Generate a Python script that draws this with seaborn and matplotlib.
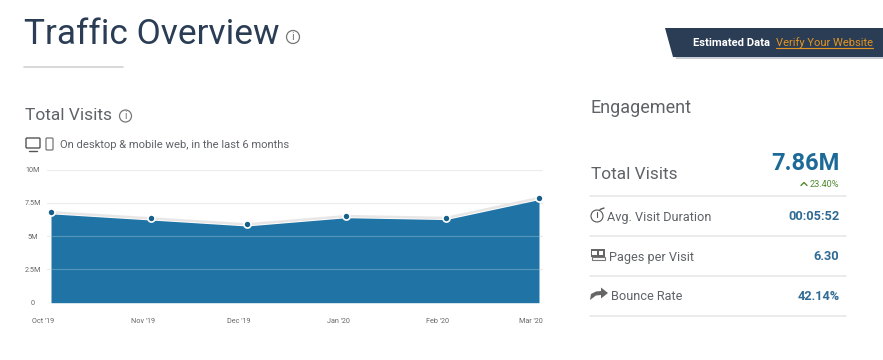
import pandas as pd
import matplotlib.pyplot as plt
from matplotlib.patches import Circle, FancyBboxPatch, Polygon, Rectangle
from matplotlib.transforms import ScaledTranslation
import seaborn as sns

# --- DATA ---
MONTHS = ["2019-10-01", "2019-11-01", "2019-12-01", "2020-01-01", "2020-02-01", "2020-03-01"]
MONTH_LABELS = ["Oct '19", "Nov '19", "Dec '19", "Jan '20", "Feb '20", "Mar '20"]
VISITS_M = [6.79, 6.33, 5.88, 6.50, 6.36, 7.86]
Y_TICKS = [0, 2.5, 5, 7.5, 10]
Y_LABELS = ["0", "2.5M", "5M", "7.5M", "10M"]
ROW_LABELS = ["Avg. Visit Duration", "Pages per Visit", "Bounce Rate"]
ROW_VALUES = ["00:05:52", "6.30", "42.14%"]

BLUE = "#1f74a5"
NAVY = "#2b3d55"
GREY = "#5f6368"
VALUE_BLUE = "#2f6b94"

sns.set_style("white")
plt.rcParams['font.family'] = ['Roboto', 'DejaVu Sans']

W, H = 883, 360
fig = plt.figure(figsize=(W / 100, H / 100), dpi=100, facecolor="white")

# Page layer in pixel coordinates for the text and icons around the chart
page = fig.add_axes([0, 0, 1, 1])
page.set_xlim(0, W)
page.set_ylim(H, 0)
page.axis("off")

# Chart
ax = fig.add_axes([47 / W, 1 - 302.7 / H, 496 / W, 133.2 / H])
df = pd.DataFrame({"month": pd.to_datetime(MONTHS), "visits": VISITS_M})
pad = pd.Timedelta(days=1.25)
ax.set_xlim(df["month"].iloc[0] - pad, df["month"].iloc[-1] + pad)
ax.set_ylim(0, 10)

ax.fill_between(df["month"], df["visits"] - 0.12, 0, color=BLUE, lw=0, zorder=2)
ax.hlines(Y_TICKS[1:3], df["month"].iloc[0], df["month"].iloc[-1], color="white",
          alpha=0.25, lw=0.8, zorder=3)
sns.lineplot(data=df, x="month", y="visits", ax=ax, color="#e9e6e6", lw=1.8, zorder=4)
sns.scatterplot(data=df, x="month", y="visits", ax=ax, color="#155f8a", s=26,
                edgecolor="white", linewidth=1.2, zorder=5, clip_on=False)

ax.set_yticks(Y_TICKS, Y_LABELS)
ax.set_xticks(df["month"], MONTH_LABELS)
ax.set_xlabel("")
ax.set_ylabel("")
ax.grid(axis="y", color="#ececec", lw=0.8)
ax.set_axisbelow(True)
sns.despine(ax=ax, left=True, bottom=True)
ax.tick_params(axis="y", length=0, pad=10, labelsize=5.2, labelcolor="#666666")
ax.tick_params(axis="x", length=2.5, width=0.6, color="#dddddd", pad=8.5,
               labelsize=5.2, labelcolor="#666666")
for lab in ax.get_yticklabels():
    lab.set_ha("center")
shift = ScaledTranslation(-8 / 100, 0, fig.dpi_scale_trans)
for lab in ax.get_xticklabels():
    lab.set_transform(lab.get_transform() + shift)


def info_icon(x, y, r, color="#777777"):
    page.add_patch(Circle((x, y), r, fill=False, ec=color, lw=0.9))
    page.text(x, y + 0.3, "i", color=color, fontsize=r * 1.25, ha="center", va="center")


# Header
page.text(24, 35, "Traffic Overview", color=NAVY, fontsize=25.4, va="center")
page.plot([24, 123], [67, 67], color="#d2d2d2", lw=1.2)
info_icon(293, 37, 6.5)

page.text(25, 116, "Total Visits", color=GREY, fontsize=12.5, va="center")
info_icon(125.5, 116, 6)

# Monitor and phone icons
page.add_patch(FancyBboxPatch((26, 138), 14, 10, boxstyle="round,pad=0,rounding_size=1",
                              fill=False, ec="#555555", lw=1))
page.plot([29, 37], [150.5, 150.5], color="#555555", lw=1)
page.add_patch(FancyBboxPatch((46, 138), 7, 12, boxstyle="round,pad=0,rounding_size=1",
                              fill=False, ec="#666666", lw=0.8))
page.text(60, 145, "On desktop & mobile web, in the last 6 months", color=GREY,
          fontsize=8.1, va="center")

# Banner
page.add_patch(Polygon([(668, 30), (883, 30), (883, 59), (676, 59)], color="#c9ced4", lw=0))
page.add_patch(Polygon([(665, 28), (883, 28), (883, 57), (673, 57)], color=NAVY, lw=0))
page.text(693, 42.5, "Estimated Data", color="white", fontsize=8.1, fontweight="bold", va="center")
page.text(776, 42.5, "Verify Your Website", color="#e3951f", fontsize=8, va="center")
page.plot([776, 873], [47.5, 47.5], color="#e3951f", lw=0.8)

# Engagement panel
page.text(591, 108, "Engagement", color=GREY, fontsize=13, va="center")
page.text(591, 174.5, "Total Visits", color=GREY, fontsize=12.4, va="center")
page.text(839.5, 164, "7.86M", color="#1c6a98", fontsize=17, fontweight="bold",
          ha="right", va="center")
page.text(839.5, 184.5, "23.40%", color="#4f8a2f", fontsize=6.6, ha="right", va="center")
page.plot([801, 804, 807], [185.5, 182.5, 185.5], color="#4f8a2f", lw=1)
for y in [196, 236, 276, 316]:
    page.plot([590, 846], [y, y], color="#e8e8e8", lw=1.2)

row_x = [607, 609, 611]
row_y = [217, 257, 296.5]
for label, value, x, y in zip(ROW_LABELS, ROW_VALUES, row_x, row_y):
    page.text(x, y, label, color=GREY, fontsize=9.2, va="center")
    page.text(839.5, y, value, color=VALUE_BLUE, fontsize=9.2, fontweight="bold",
              ha="right", va="center")

# Stopwatch
page.add_patch(Circle((597, 216), 6, fill=False, ec="#555555", lw=0.8))
page.plot([597, 597], [212, 216.5], color="#555555", lw=0.8)
page.plot([600, 604], [209.5, 208], color="#555555", lw=1)
# Newspaper
page.add_patch(Rectangle((590.5, 249), 14, 8, color="#666666", lw=0))
page.add_patch(Rectangle((592, 250.5), 5, 4, color="white", lw=0))
page.add_patch(Rectangle((598.5, 250.5), 4.5, 4, color="white", lw=0))
page.add_patch(Rectangle((592, 257), 13, 3, fill=False, ec="#777777", lw=0.8))
# Share arrow
page.add_patch(Polygon([(590, 300), (591, 294), (596, 291.5), (601, 291), (601, 287.5),
                        (608, 293), (601, 298.5), (601, 295), (596, 295.5)],
                       color="#666666", lw=0))

fig.savefig("out.png", dpi=100, facecolor="white")
plt.close(fig)
